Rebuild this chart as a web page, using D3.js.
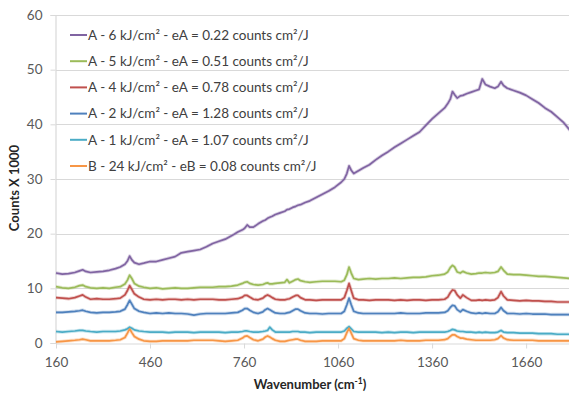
<!DOCTYPE html>
<html><head><meta charset="utf-8">
<script src="https://cdn.jsdelivr.net/npm/d3@7"></script>
<style>
body{margin:0;background:#fff}
text{font-family:Lato,"Open Sans",sans-serif}
</style>
</head><body>
<svg id="chart" width="569" height="394"></svg>
<script>
// ---------- DATA ----------
const wavenumbers = [
 160,180,200,220,235,245,255,270,290,310,
 330,350,365,380,388,395,402,410,425,440,
 460,480,500,520,540,560,580,600,620,640,
 660,680,700,720,740,755,762,770,778,790,
 805,820,828,835,842,850,860,875,890,897,
 905,915,925,932,940,955,970,990,1010,1030,
 1050,1070,1080,1088,1095,1102,1110,1125,1140,1160,
 1180,1200,1220,1240,1260,1280,1300,1320,1340,1360,
 1380,1400,1410,1418,1425,1432,1440,1450,1458,1470,
 1485,1500,1510,1520,1530,1545,1560,1570,1580,1588,
 1600,1620,1640,1660,1680,1700,1720,1740,1760,1780,
 1800];

const seriesA6 = [
 12.8,12.6,12.7,12.9,13.2,13.4,13.1,12.9,13.0,13.1,
 13.3,13.6,13.9,14.4,15.0,15.9,15.2,14.7,14.4,14.6,
 14.9,14.9,15.2,15.5,15.8,16.5,16.7,16.9,17.1,17.6,
 18.2,18.6,19.0,19.6,20.3,20.7,21.0,21.6,21.2,21.2,
 21.8,22.3,22.5,22.8,23.0,23.2,23.5,23.8,24.1,24.4,
 24.5,24.8,25.0,25.2,25.3,25.7,26.0,26.6,27.2,27.8,
 28.5,29.4,30.0,31.0,32.4,31.6,31.0,31.5,32.0,32.6,
 33.5,34.3,35.0,35.8,36.5,37.2,37.9,38.6,39.8,41.0,
 42.0,43.0,43.8,44.6,46.0,45.4,44.8,45.2,45.3,45.6,
 45.9,46.2,46.4,48.3,47.3,46.9,46.6,46.9,47.8,47.1,
 46.6,46.2,45.8,45.3,44.6,43.9,43.0,42.3,41.3,40.3,
 38.9];

const seriesA5 = [
 10.3,10.1,10.0,10.2,10.5,10.6,10.3,10.1,10.0,10.1,
 10.0,10.2,10.3,10.8,11.5,12.4,11.8,10.9,10.4,10.2,
 10.0,10.1,9.9,10.0,10.1,10.0,10.0,10.1,10.2,10.2,
 10.2,10.3,10.3,10.4,10.6,10.9,11.1,11.2,10.9,10.7,
 10.6,10.7,10.9,11.0,10.8,10.8,10.9,11.0,11.1,11.6,
 11.0,11.3,11.6,11.7,11.4,11.2,11.1,11.2,11.3,11.3,
 11.3,11.2,11.5,12.5,13.9,12.8,11.8,11.6,11.7,11.8,
 11.7,11.8,11.8,11.9,11.8,11.9,12.0,12.0,12.1,12.3,
 12.4,12.6,13.0,13.8,14.2,13.9,13.0,12.8,13.1,12.8,
 12.6,12.7,12.8,12.8,12.9,12.8,12.9,13.1,13.9,13.3,
 12.6,12.5,12.5,12.4,12.3,12.2,12.2,12.1,12.0,11.9,
 11.8];

const seriesA4 = [
 8.3,8.2,8.1,8.3,8.6,8.8,8.4,8.0,8.1,8.0,
 8.0,8.1,8.2,8.8,9.6,10.5,9.8,9.0,8.4,8.0,
 7.9,8.0,7.9,8.0,8.0,7.9,8.0,7.9,8.0,8.0,
 8.0,7.9,7.9,8.0,8.1,8.4,8.7,8.7,8.4,8.0,
 7.9,8.2,8.6,8.8,8.6,8.3,8.0,7.9,7.9,8.0,
 8.1,8.4,8.7,8.7,8.3,7.9,7.9,7.8,7.9,7.9,
 7.9,7.9,8.3,9.6,10.9,9.6,8.2,7.9,7.9,7.8,
 7.9,7.9,7.9,7.8,7.9,7.8,7.9,7.9,7.8,7.9,
 7.9,8.0,8.4,9.2,9.7,9.6,8.8,8.2,8.8,8.3,
 7.8,7.8,7.9,7.8,7.9,7.8,7.9,8.3,9.4,8.6,
 7.9,7.8,7.7,7.8,7.7,7.7,7.6,7.6,7.5,7.5,
 7.5];

const seriesA2 = [
 5.6,5.6,5.7,5.8,5.9,6.0,5.8,5.6,5.5,5.6,
 5.6,5.7,5.8,6.2,7.0,7.8,7.1,6.3,5.8,5.6,
 5.4,5.5,5.4,5.5,5.4,5.4,5.3,5.1,5.3,5.4,
 5.4,5.4,5.4,5.5,5.6,6.0,6.3,6.3,6.0,5.6,
 5.4,5.7,6.1,6.3,6.1,5.8,5.5,5.4,5.4,5.5,
 5.6,5.9,6.2,6.2,5.9,5.5,5.4,5.4,5.3,5.4,
 5.4,5.4,5.8,7.0,8.2,7.0,5.8,5.5,5.4,5.4,
 5.4,5.4,5.4,5.4,5.5,5.4,5.4,5.4,5.5,5.5,
 5.5,5.6,5.9,6.5,6.9,6.8,6.1,5.7,6.1,5.8,
 5.5,5.4,5.5,5.4,5.5,5.4,5.4,5.7,6.5,5.9,
 5.4,5.4,5.3,5.4,5.3,5.3,5.3,5.2,5.2,5.2,
 5.2];

const seriesA1 = [
 2.1,2.0,2.1,2.2,2.3,2.3,2.2,2.1,2.0,2.1,
 2.1,2.1,2.2,2.4,2.6,2.9,2.7,2.4,2.2,2.1,
 2.0,2.0,2.0,1.9,2.0,2.0,2.0,1.9,2.0,2.0,
 2.0,2.0,1.9,2.0,2.0,2.1,2.2,2.2,2.1,2.0,
 2.0,2.1,2.2,2.3,2.9,2.4,2.0,2.0,2.0,2.0,
 2.0,2.1,2.1,2.1,2.0,2.0,1.9,2.0,2.0,2.0,
 2.0,2.0,2.2,2.7,3.0,2.6,2.1,2.0,2.0,2.0,
 2.0,1.9,2.0,1.9,2.0,2.0,1.9,2.0,2.0,2.0,
 2.0,2.0,2.1,2.3,2.5,2.4,2.2,2.1,2.1,2.0,
 2.0,1.9,2.0,1.9,2.0,1.9,1.9,2.0,2.3,2.0,
 1.9,1.9,1.8,1.8,1.8,1.7,1.7,1.7,1.6,1.6,
 1.6];

const seriesB24 = [
 0.2,0.3,0.4,0.5,0.6,0.7,0.6,0.4,0.4,0.4,
 0.4,0.5,0.6,1.0,1.8,2.6,1.9,1.2,0.7,0.4,
 0.3,0.3,0.4,0.4,0.4,0.4,0.4,0.5,0.5,0.5,
 0.5,0.4,0.3,0.4,0.5,0.9,1.2,1.3,1.0,0.6,
 0.4,0.7,1.1,1.3,1.1,0.8,0.5,0.3,0.3,0.4,
 0.5,0.6,0.7,0.7,0.5,0.3,0.3,0.3,0.4,0.4,
 0.4,0.4,0.8,1.9,2.7,1.8,0.8,0.5,0.4,0.4,
 0.4,0.4,0.4,0.4,0.5,0.4,0.4,0.4,0.5,0.5,
 0.5,0.6,0.8,1.2,1.5,1.5,1.2,0.9,0.9,0.7,
 0.6,0.5,0.5,0.5,0.5,0.5,0.6,0.8,1.35,0.9,
 0.6,0.5,0.5,0.5,0.5,0.4,0.4,0.4,0.4,0.4,
 0.4];

const seriesLabels = [
 "A - 6 kJ/cm² - eA = 0.22 counts cm²/J",
 "A - 5 kJ/cm² - eA = 0.51 counts cm²/J",
 "A - 4 kJ/cm² - eA = 0.78 counts cm²/J",
 "A - 2 kJ/cm² - eA = 1.28 counts cm²/J",
 "A - 1 kJ/cm² - eA = 1.07 counts cm²/J",
 "B - 24 kJ/cm² - eB = 0.08 counts cm²/J"];
const seriesValues = [seriesA6, seriesA5, seriesA4, seriesA2, seriesA1, seriesB24];
const xTicks = [160, 460, 760, 1060, 1360, 1660];
const yTicks = [0, 10, 20, 30, 40, 50, 60];

// ---------- STYLE ----------
const colors = ["#8064A2", "#9BBB59", "#C0504D", "#4F81BD", "#4BACC6", "#F79646"];

const svg = d3.select("#chart");
const x = d3.scaleLinear().domain([160, 1800]).range([56, 570]);
const y = d3.scaleLinear().domain([0, 60]).range([343, 15]);

// gridlines
svg.append("g").selectAll("line").data(yTicks.filter(d => d > 0)).join("line")
  .attr("x1", 56).attr("x2", 569)
  .attr("y1", d => Math.round(y(d)) + 0.5).attr("y2", d => Math.round(y(d)) + 0.5)
  .attr("stroke", "#d9d9d9").attr("stroke-width", 1.2);

// y axis
const yAxis = svg.append("g").attr("transform", "translate(55.5,0)")
  .call(d3.axisLeft(y).tickValues(yTicks).tickSize(5).tickPadding(8));
yAxis.select(".domain").attr("stroke", "#d9d9d9").attr("stroke-width", 1.2);
yAxis.selectAll(".tick line").attr("stroke", "#d9d9d9");
yAxis.selectAll(".tick text").attr("fill", "#595959").attr("font-size", 13.5)
  .style("font-family", "Lato, 'Open Sans', sans-serif");

// x axis
const xAxis = svg.append("g").attr("transform", "translate(0,343.5)")
  .call(d3.axisBottom(x).tickValues(xTicks).tickFormat(d3.format("d")).tickSize(5).tickPadding(9).tickSizeOuter(0));
xAxis.select(".domain").attr("stroke", "#d9d9d9").attr("stroke-width", 1.2);
xAxis.selectAll(".tick line").attr("stroke", "#d9d9d9");
xAxis.selectAll(".tick text").attr("fill", "#595959").attr("font-size", 13.5)
  .style("font-family", "Lato, 'Open Sans', sans-serif");

// lines (soft halo + core stroke)
const line = d3.line().x((d, i) => x(wavenumbers[i])).y(d => y(d));
const lg = svg.append("g");
lg.selectAll("path.halo").data(seriesValues).join("path").attr("class", "halo")
  .attr("d", d => line(d)).attr("fill", "none")
  .attr("stroke", (d, i) => colors[i]).attr("stroke-opacity", 0.3)
  .attr("stroke-width", 3.4).attr("stroke-linejoin", "round");
lg.selectAll("path.core").data(seriesValues).join("path").attr("class", "core")
  .attr("d", d => line(d)).attr("fill", "none")
  .attr("stroke", (d, i) => colors[i])
  .attr("stroke-width", 1.7).attr("stroke-linejoin", "round");

// axis titles
svg.append("text").attr("transform", "translate(19,188) rotate(-90)")
  .attr("text-anchor", "middle").attr("font-weight", "bold").attr("font-size", 13)
  .attr("fill", "#262626").text("Counts X 1000");

const xt = svg.append("text").attr("x", 310).attr("y", 389)
  .attr("text-anchor", "middle").attr("font-weight", "bold").attr("font-size", 13)
  .attr("fill", "#262626");
xt.append("tspan").text("Wavenumber (cm");
xt.append("tspan").attr("font-size", 8.5).attr("dy", -5).text("-1");
xt.append("tspan").attr("dy", 5).text(")");

// legend
const leg = svg.append("g");
seriesLabels.forEach((lab, i) => {
  const cy = 35 + i * 26.2;
  leg.append("line").attr("x1", 70).attr("x2", 87).attr("y1", cy).attr("y2", cy)
    .attr("stroke", colors[i]).attr("stroke-width", 2);
  leg.append("text").attr("x", 88).attr("y", cy).attr("dy", "0.35em")
    .attr("font-size", 13.5).attr("fill", "#404040").text(lab);
});
</script>
</body></html>
